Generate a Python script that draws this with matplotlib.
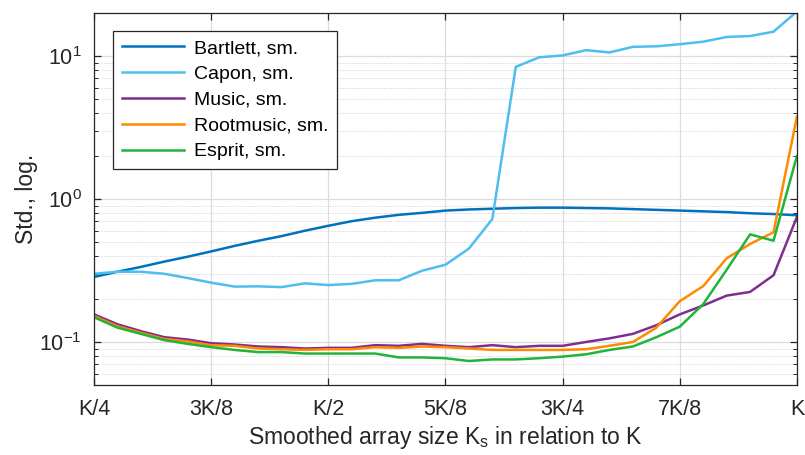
import matplotlib
matplotlib.use("Agg")
import matplotlib.pyplot as plt
from matplotlib.ticker import LogLocator, NullFormatter

plt.rcParams['font.family'] = ['Liberation Sans', 'DejaVu Sans']
plt.rcParams['mathtext.fontset'] = 'custom'
plt.rcParams['mathtext.rm'] = 'Liberation Sans'
plt.rcParams['mathtext.it'] = 'Liberation Sans:italic'

# Smoothed array size as a fraction of K (K/4 ... K in steps of K/40)
ks_frac = [0.25, 0.275, 0.3, 0.325, 0.35, 0.375, 0.4, 0.425, 0.45, 0.475,
           0.5, 0.525, 0.55, 0.575, 0.6, 0.625, 0.65, 0.675, 0.7, 0.725,
           0.75, 0.775, 0.8, 0.825, 0.85, 0.875, 0.9, 0.925, 0.95, 0.975, 1.0]

bartlett = [0.285, 0.31, 0.335, 0.365, 0.395, 0.43, 0.47, 0.51, 0.55, 0.60,
            0.65, 0.70, 0.74, 0.775, 0.80, 0.83, 0.845, 0.855, 0.865, 0.87,
            0.87, 0.865, 0.86, 0.85, 0.84, 0.83, 0.82, 0.81, 0.795, 0.785, 0.77]
capon = [0.30, 0.31, 0.31, 0.30, 0.28, 0.26, 0.244, 0.245, 0.242, 0.257,
         0.25, 0.255, 0.27, 0.27, 0.315, 0.347, 0.45, 0.725, 8.4, 9.8,
         10.1, 11.0, 10.6, 11.6, 11.7, 12.1, 12.6, 13.6, 13.8, 14.8, 20.5]
music = [0.156, 0.133, 0.119, 0.108, 0.104, 0.098, 0.096, 0.093, 0.092, 0.090,
         0.091, 0.091, 0.095, 0.094, 0.097, 0.094, 0.092, 0.095, 0.092, 0.094,
         0.094, 0.100, 0.106, 0.114, 0.131, 0.156, 0.18, 0.211, 0.224, 0.293, 0.75]
rootmusic = [0.152, 0.129, 0.116, 0.105, 0.101, 0.095, 0.094, 0.090, 0.089, 0.088,
             0.089, 0.089, 0.092, 0.091, 0.093, 0.092, 0.090, 0.088, 0.088, 0.088,
             0.088, 0.089, 0.094, 0.100, 0.126, 0.193, 0.246, 0.385, 0.485, 0.585, 3.77]
esprit = [0.149, 0.126, 0.114, 0.103, 0.097, 0.092, 0.088, 0.085, 0.085, 0.083,
          0.083, 0.083, 0.083, 0.078, 0.078, 0.077, 0.0736, 0.0755, 0.0755, 0.077,
          0.079, 0.082, 0.088, 0.093, 0.108, 0.128, 0.184, 0.32, 0.566, 0.511, 2.0]

series = [
    ("Bartlett, sm.", bartlett, "#0072BD"),
    ("Capon, sm.", capon, "#4DBEEE"),
    ("Music, sm.", music, "#7E2F8E"),
    ("Rootmusic, sm.", rootmusic, "#FF8A00"),
    ("Esprit, sm.", esprit, "#22B33A"),
]

x_ticks = [0.25, 0.375, 0.5, 0.625, 0.75, 0.875, 1.0]
x_ticklabels = ["K/4", "3K/8", "K/2", "5K/8", "3K/4", "7K/8", "K"]

fig = plt.figure(figsize=(8.05, 4.55), dpi=100)
ax = fig.add_axes([0.1168, 0.1538, 0.8732, 0.8176])

for label, vals, color in series:
    ax.plot(ks_frac, vals, color=color, lw=1.8, label=label, clip_on=True)

ax.set_yscale('log')
ax.set_xlim(0.25, 1.0)
ax.set_ylim(0.05, 20)
ax.set_xticks(x_ticks)
ax.set_xticklabels(x_ticklabels)
ax.yaxis.set_major_locator(LogLocator(base=10, numticks=10))
ax.yaxis.set_minor_locator(LogLocator(base=10, subs=range(2, 10), numticks=20))
ax.yaxis.set_minor_formatter(NullFormatter())

frame = "#262626"
for sp in ax.spines.values():
    sp.set_color(frame)
    sp.set_linewidth(0.9)
ax.tick_params(which='both', direction='in', top=True, right=True,
               colors=frame, labelcolor="#262626", labelsize=15.5)
ax.tick_params(which='major', length=5, width=0.9)
ax.tick_params(which='minor', length=3, width=0.7)
ax.tick_params(axis='x', pad=10)
ax.tick_params(axis='y', pad=9)

ax.grid(True, which='major', color='#dcdcdc', lw=0.9, ls='-')
ax.grid(True, which='minor', axis='y', color='#cfcfcf', lw=0.7, ls=(0, (1, 1.5)))
ax.set_axisbelow(True)

ax.set_xlabel("Smoothed array size K$_\\mathrm{s}$ in relation to K", fontsize=16.5,
              color="#262626", labelpad=3)
ax.set_ylabel("Std., log.", fontsize=16.5, color="#262626", labelpad=1)

leg = ax.legend(loc='upper left', bbox_to_anchor=(0.027, 0.952), borderaxespad=0,
                fontsize=14, handlelength=3.2, handletextpad=0.5, labelspacing=0.42,
                borderpad=0.45, fancybox=False, framealpha=1.0)
leg.get_frame().set_edgecolor(frame)
leg.get_frame().set_linewidth(0.9)

fig.savefig("out.png", dpi=100)
